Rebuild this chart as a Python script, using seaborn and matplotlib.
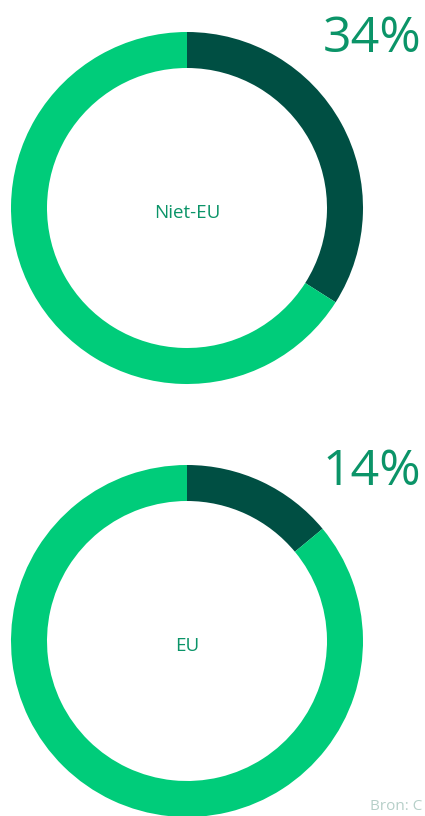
import matplotlib
matplotlib.use("Agg")
import matplotlib.pyplot as plt
import seaborn as sns

sns.set_theme(style="white")
plt.rcParams["font.family"] = ["Open Sans", "DejaVu Sans"]

# Share of each group, in percent
groups = ["Niet-EU", "EU"]
shares = [34, 14]
source_text = "Bron: C"

DARK = "#004F43"
BRIGHT = "#00CC7A"
TEXT = "#0B9468"

fig = plt.figure(figsize=(4.25, 8.16), dpi=100)
ax = fig.add_axes([0, 0, 1, 1])

W, H = 425, 816
centers = [(187, 208), (187, 641)]
radius = 176
ring = 36

# y axis runs downwards (pixel-like coordinates), so a data-space
# counter-clockwise sweep starting at -90 deg reads clockwise from 12 o'clock
for name, share, (cx, cy) in zip(groups, shares, centers):
    ax.pie([share, 100 - share], colors=[DARK, BRIGHT], startangle=-90,
           counterclock=True, center=(cx, cy), radius=radius,
           wedgeprops=dict(width=ring, linewidth=0))
    ax.text(cx, cy + 10, name, ha="center", va="baseline", fontsize=13.5,
            color=TEXT)
    ax.text(323, cy - 156, f"{share}%", ha="left", va="baseline",
            fontsize=36, color=TEXT)

ax.text(370, 810, source_text, ha="left", va="baseline", fontsize=11,
        color="#B6CFC8")

ax.set_xlim(0, W)
ax.set_ylim(H, 0)
ax.set_aspect("equal")
ax.axis("off")

fig.savefig("out.png", dpi=100)
